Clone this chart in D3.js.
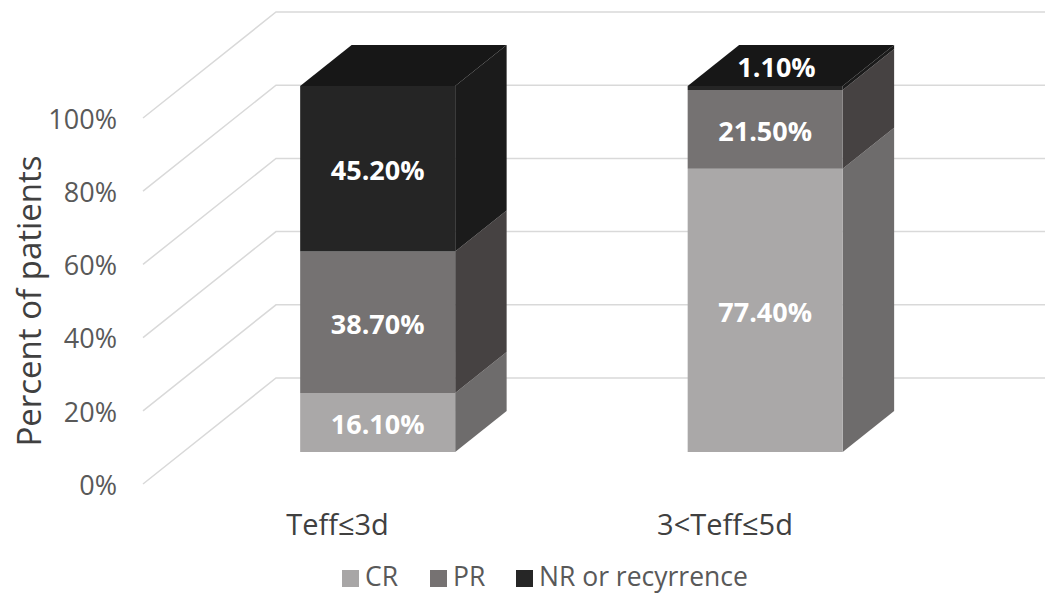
<!DOCTYPE html>
<html>
<head>
<meta charset="utf-8">
<script src="https://cdn.jsdelivr.net/npm/d3@7/dist/d3.min.js"></script>
<style>
  html, body { margin: 0; padding: 0; background: #ffffff; }
  svg { display: block; }
  text { font-family: "Open Sans", "Noto Sans", sans-serif; }
</style>
</head>
<body>
<svg id="chart" width="1045" height="593"></svg>
<script>
// Response by effective time, share of patients in each group
const categories = ["Teff\u22643d", "3<Teff\u22645d"];
const seriesNames = ["CR", "PR", "NR or recyrrence"];
const crValues = [16.1, 77.4];
const prValues = [38.7, 21.5];
const nrValues = [45.2, 1.1];
const yTicks = [0, 20, 40, 60, 80, 100];

const frontColors = ["#aaa8a8", "#757272", "#252525"];
const sideColors = ["#6e6c6c", "#464242", "#1b1b1b"];
const topColors = ["#8f8d8d", "#5a5656", "#171717"];
const legendColors = ["#a8a6a6", "#767272", "#262626"];

const rows = categories.map((c, i) => ({
  category: c, CR: crValues[i], PR: prValues[i], "NR or recyrrence": nrValues[i]
}));
const stacked = d3.stack().keys(seriesNames)(rows);

const svg = d3.select("#chart");

// Oblique 3D projection: z runs 0 (front of floor) to 1 (back wall)
const depthDx = 133, depthDy = 106;
const barZ0 = 0.302, barZ1 = 0.689;

const x = d3.scaleBand().domain(categories)
  .range([143.75, 918.75]).paddingInner(0.6).paddingOuter(0.3);
const y = d3.scaleLinear().domain([0, 100]).range([484, 118]);

const P = (px, v, z) => [px + z * depthDx, y(v) - z * depthDy];
const poly = pts => "M" + pts.map(p => p.join(",")).join("L") + "Z";

// Wall gridlines: diagonal along the side wall, then across the back wall
const grid = svg.append("g").attr("fill", "none").attr("stroke", "#d9d9d9").attr("stroke-width", 1.5);
yTicks.forEach(t => {
  const a = P(143, t, 0), b = P(143, t, 1);
  grid.append("path").attr("d", `M${a[0]},${a[1]}L${b[0]},${b[1]}L1045,${b[1]}`);
});

// Tick labels
svg.append("g").selectAll("text").data(yTicks).join("text")
  .attr("x", 117).attr("y", d => y(d) + 1).attr("dy", "0.36em")
  .attr("text-anchor", "end").attr("font-size", 27).attr("fill", "#595959")
  .text(d => d + "%");

// Axis title
svg.append("text")
  .attr("transform", "translate(41,301) rotate(-90)")
  .attr("text-anchor", "middle").attr("font-size", 33).attr("fill", "#404040")
  .text("Percent of patients");

// Stacked 3D columns
const bars = svg.append("g");
categories.forEach((cat, ci) => {
  const x0 = x(cat), x1 = x0 + x.bandwidth();
  stacked.forEach((layer, si) => {
    const [v0, v1] = layer[ci];
    const g = bars.append("g");
    // right side face
    g.append("path").attr("fill", sideColors[si]).attr("d", poly([
      P(x1, v0, barZ0), P(x1, v0, barZ1), P(x1, v1, barZ1), P(x1, v1, barZ0)
    ]));
    // front face
    g.append("path").attr("fill", frontColors[si]).attr("d", poly([
      P(x0, v0, barZ0), P(x1, v0, barZ0), P(x1, v1, barZ0), P(x0, v1, barZ0)
    ]));
    if (si === stacked.length - 1) {
      // top face of the column
      g.append("path").attr("fill", topColors[si]).attr("d", poly([
        P(x0, v1, barZ0), P(x1, v1, barZ0), P(x1, v1, barZ1), P(x0, v1, barZ1)
      ]));
    }
  });
});

// Value labels
const labels = svg.append("g");
categories.forEach((cat, ci) => {
  const cx = x(cat) + x.bandwidth() / 2;
  stacked.forEach((layer, si) => {
    const [v0, v1] = layer[ci];
    const val = v1 - v0;
    const [fx, fyTop] = P(cx, v1, barZ0);
    const fyBot = P(cx, v0, barZ0)[1];
    let lx = fx, ly = (fyTop + fyBot) / 2 + 2;
    if (fyBot - fyTop < 20) {
      // thin segment: label sits on the column's top face
      lx = fx + (barZ1 - barZ0) * depthDx * 0.22;
      ly = fyTop - (barZ1 - barZ0) * depthDy * 0.45;
    }
    labels.append("text")
      .attr("x", lx).attr("y", ly).attr("dy", "0.36em")
      .attr("text-anchor", "middle").attr("font-size", 27).attr("font-weight", 700)
      .attr("fill", "#ffffff")
      .text(val.toFixed(2) + "%");
  });
});

// Category labels
svg.append("g").selectAll("text").data(categories).join("text")
  .attr("x", d => x(d) + x.bandwidth() / 2).attr("y", 525).attr("dy", "0.36em")
  .attr("text-anchor", "middle").attr("font-size", 29).attr("fill", "#404040")
  .text(d => d);

// Legend
const legendX = [342, 430, 516];
const legend = svg.append("g");
seriesNames.forEach((name, i) => {
  legend.append("rect").attr("x", legendX[i]).attr("y", 570).attr("width", 17).attr("height", 17)
    .attr("fill", legendColors[i]);
  legend.append("text").attr("x", legendX[i] + 23).attr("y", 586)
    .attr("font-size", 26.5).attr("fill", "#595959").text(name);
});
</script>
</body>
</html>
